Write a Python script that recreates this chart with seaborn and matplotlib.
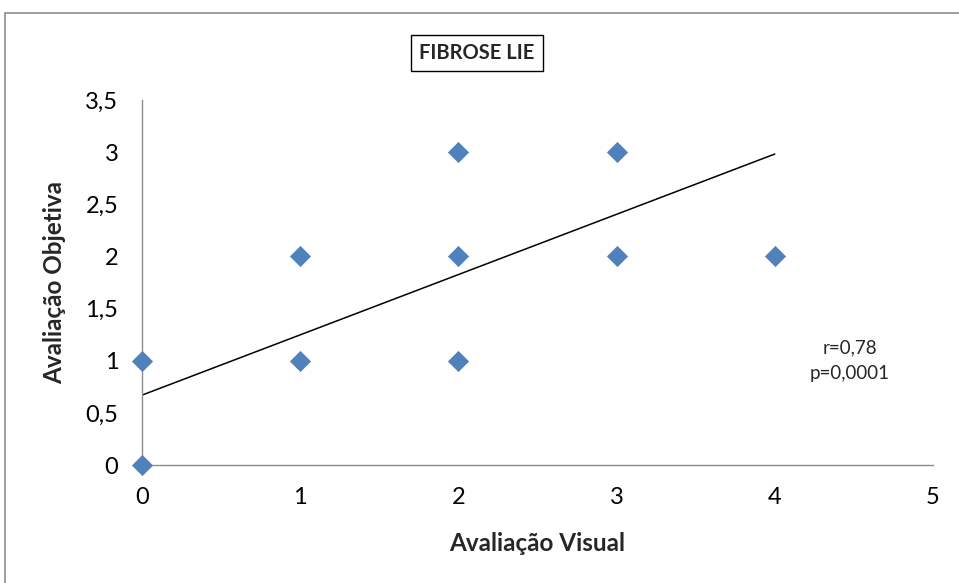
import matplotlib
matplotlib.use("Agg")
import matplotlib.pyplot as plt
import seaborn as sns
import numpy as np
from matplotlib.patches import Rectangle
from matplotlib.ticker import FuncFormatter

sns.set_style("white")
plt.rcParams["font.family"] = ["Lato", "DejaVu Sans"]

visual = [0, 0, 1, 1, 2, 2, 2, 3, 3, 4]
objetiva = [0, 1, 1, 2, 1, 2, 3, 2, 3, 2]

trend_intercept = 0.67
trend_slope = 0.578
trend_x = [0, 4]

x_ticks = [0, 1, 2, 3, 4, 5]
y_ticks = [0, 0.5, 1, 1.5, 2, 2.5, 3, 3.5]

fig = plt.figure(figsize=(9.59, 5.83), dpi=100)
ax = fig.add_axes([142 / 959, 118 / 583, 791 / 959, 365 / 583])

# outer chart frame
fig.patches.append(Rectangle(
    (5 / 959, -0.05), 1.1, 1 - 13 / 583 + 0.05,
    transform=fig.transFigure, fill=False,
    edgecolor="#8c8c8c", linewidth=1.2
))

sns.scatterplot(
    x=visual,
    y=objetiva,
    marker="D",
    s=105,
    color="#4F81BD",
    edgecolor="#4A7EBB",
    linewidth=0.5,
    ax=ax,
    zorder=3,
    clip_on=False
)

tx = np.array(trend_x)
ax.plot(tx, trend_intercept + trend_slope * tx, color="black", linewidth=1.1, zorder=2)

ax.set_xlim(0, 5)
ax.set_ylim(0, 3.5)
ax.set_xticks(x_ticks)
ax.set_yticks(y_ticks)
fmt = FuncFormatter(lambda v, p: ("%g" % v).replace(".", ","))
ax.yaxis.set_major_formatter(fmt)
ax.xaxis.set_major_formatter(fmt)

for side in ["top", "right"]:
    ax.spines[side].set_visible(False)
for side in ["left", "bottom"]:
    ax.spines[side].set_color("#8c8c8c")
    ax.spines[side].set_linewidth(1.0)

ax.tick_params(axis="both", direction="out", length=6, width=1,
               color="#8c8c8c", labelsize=17, labelcolor="black")
ax.tick_params(axis="x", pad=10)
ax.tick_params(axis="y", pad=11)

ax.set_xlabel("Avaliação Visual", fontsize=17.5, fontweight="bold", labelpad=17)
ax.set_ylabel("Avaliação Objetiva", fontsize=17.5, fontweight="bold", labelpad=14)

fig.text(477 / 959, 1 - 53 / 583, "FIBROSE LIE", ha="center", va="center",
         fontsize=14.5, fontweight="bold",
         bbox=dict(boxstyle="square,pad=0.42", facecolor="white",
                   edgecolor="black", linewidth=1))

ax.text(4.475, 1.0, "r=0,78\np=0,0001", ha="center", va="center",
        fontsize=13.5, linespacing=1.55)

plt.savefig("out.png", dpi=100)
plt.close()
